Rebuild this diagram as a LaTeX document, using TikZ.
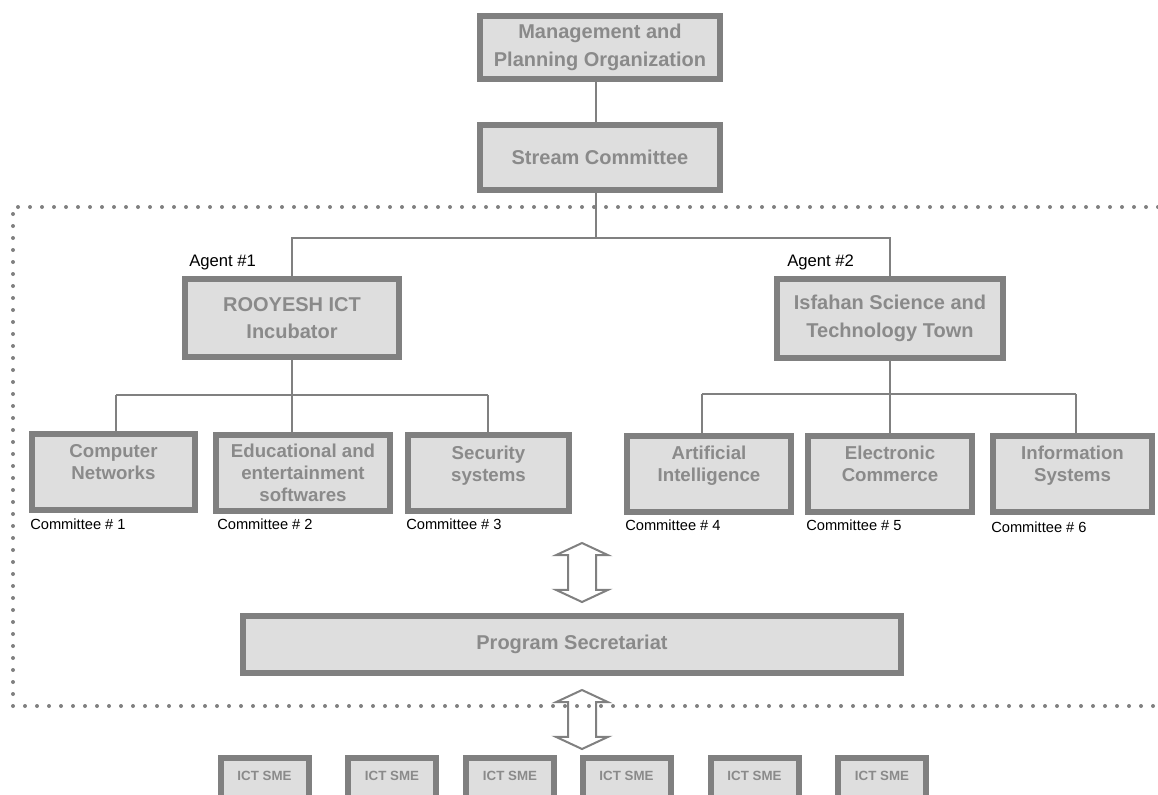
\documentclass[tikz,border=0pt]{standalone}
\usepackage{fontspec}
\setmainfont{Liberation Sans}
\usetikzlibrary{shapes.arrows}

\definecolor{boxfill}{RGB}{222,222,222}
\definecolor{boxline}{RGB}{128,128,128}
\definecolor{boxtext}{RGB}{138,138,138}

\begin{document}
\begin{tikzpicture}[x=0.75pt, y=-0.75pt]
            \useasboundingbox (0,0) rectangle (1158,794);
            {
                \tikzset{box/.style = {draw=boxline, fill=boxfill, line width=4.5pt, inner sep=0pt, outer sep=0pt,
                                       text=boxtext, align=center, font=\fontsize{15}{20.5}\selectfont\bfseries}}
                \tikzset{combox/.style = {box, minimum height=57pt, font=\fontsize{14}{16.5}\selectfont\bfseries}}
                \tikzset{smebox/.style = {box, anchor=north, minimum width=66pt, text height=17pt, text depth=24pt,
                                          font=\fontsize{10}{12}\selectfont\bfseries}}
                \tikzset{tag/.style = {anchor=west, inner sep=0pt, font=\fontsize{11}{13}\selectfont}}

                \node[box, minimum width=180pt, minimum height=47.25pt] (mpo) at (600, 47.5) {Management and\\Planning Organization};
                \node[box, minimum width=180pt, minimum height=48.75pt] (stream) at (600, 157.5) {Stream Committee};

                \node[box, minimum width=160.5pt, minimum height=58.5pt] (rooyesh) at (292, 318) {ROOYESH ICT\\Incubator};
                \node[box, minimum width=169.5pt, minimum height=59.25pt] (isfahan) at (890, 318.5) {Isfahan Science and\\Technology Town};

                \node[combox, minimum width=122.25pt] (cnet) at (113.5, 472) {Computer\\Networks\\[-2pt]\mbox{}};
                \node[combox, minimum width=130.5pt] (edu) at (303, 473) {Educational and\\entertainment\\softwares};
                \node[combox, minimum width=120.75pt] (sec) at (488.5, 473) {Security\\systems\\[-2pt]\mbox{}};
                \node[combox, minimum width=123pt] (ai) at (709, 473.5) {Artificial\\Intelligence\\[-2pt]\mbox{}};
                \node[combox, minimum width=123pt] (ecom) at (890, 473.5) {Electronic\\Commerce\\[-2pt]\mbox{}};
                \node[combox, minimum width=119.25pt] (info) at (1072.5, 473.5) {Information\\Systems\\[-2pt]\mbox{}};

                \node[box, minimum width=493.5pt, minimum height=42.75pt] (prog) at (572, 644.5) {Program Secretariat};

                \node[smebox] (sme1) at (264.5, 758) {ICT SME};
                \node[smebox] (sme2) at (392, 758) {ICT SME};
                \node[smebox] (sme3) at (510, 758) {ICT SME};
                \node[smebox] (sme4) at (626.5, 758) {ICT SME};
                \node[smebox] (sme5) at (754.5, 758) {ICT SME};
                \node[smebox] (sme6) at (882, 758) {ICT SME};

                \node[tag, font=\fontsize{12.5}{15}\selectfont] (ag1) at (189, 262) {Agent \#1};
                \node[tag, font=\fontsize{12.5}{15}\selectfont] (ag2) at (787, 262) {Agent \#2};

                \node[tag] (c1) at (30, 524) {Committee \# 1};
                \node[tag] (c2) at (217, 524) {Committee \# 2};
                \node[tag] (c3) at (406, 524) {Committee \# 3};
                \node[tag] (c4) at (625, 525) {Committee \# 4};
                \node[tag] (c5) at (806, 525) {Committee \# 5};
                \node[tag] (c6) at (991, 527) {Committee \# 6};

                \tikzset{dblarrow/.style = {double arrow, draw=boxline, line width=1.5pt, rotate=90,
                                            inner xsep=0pt, inner ysep=9.75pt, outer sep=0pt,
                                            minimum height=44.25pt, minimum width=37.5pt,
                                            double arrow head extend=9pt, double arrow tip angle=130}}
                \node[dblarrow] (arrA) at (582, 572.5) {};
                \node[dblarrow] (arrB) at (582, 719.5) {};
            }

            \tikzset{conn/.style = {draw=boxline, line width=1.5pt}}

            \coordinate (j1) at (596, 238);
            \coordinate (j2l) at (116, 395);
            \coordinate (j2r) at (488, 395);
            \coordinate (j3l) at (702, 394);
            \coordinate (j3r) at (1076, 394);

            \draw[conn] (mpo.south -| j1) -- (stream.north -| j1);
            \draw[conn] (stream.south -| j1) -- (j1);
            \draw[conn] (j1) -| (rooyesh);
            \draw[conn] (j1) -| (isfahan);

            \draw[conn] (rooyesh.south) -- (rooyesh.south |- j2l);
            \draw[conn] (j2l) -- (j2r);
            \draw[conn] (j2l) -- (j2l |- cnet.north);
            \draw[conn] (rooyesh.south |- j2l) -- (rooyesh.south |- edu.north);
            \draw[conn] (j2r) -- (j2r |- sec.north);

            \draw[conn] (isfahan.south) -- (isfahan.south |- j3l);
            \draw[conn] (j3l) -- (j3r);
            \draw[conn] (j3l) -- (j3l |- ai.north);
            \draw[conn] (isfahan.south |- j3l) -- (ecom.north);
            \draw[conn] (j3r) -- (j3r |- info.north);

            \draw[boxline, line width=3pt, line cap=round, dash pattern=on 0pt off 9pt]
                (1158, 207) -- (13, 207) -- (13, 706) -- (1158, 706);

        \end{tikzpicture}
\end{document}
